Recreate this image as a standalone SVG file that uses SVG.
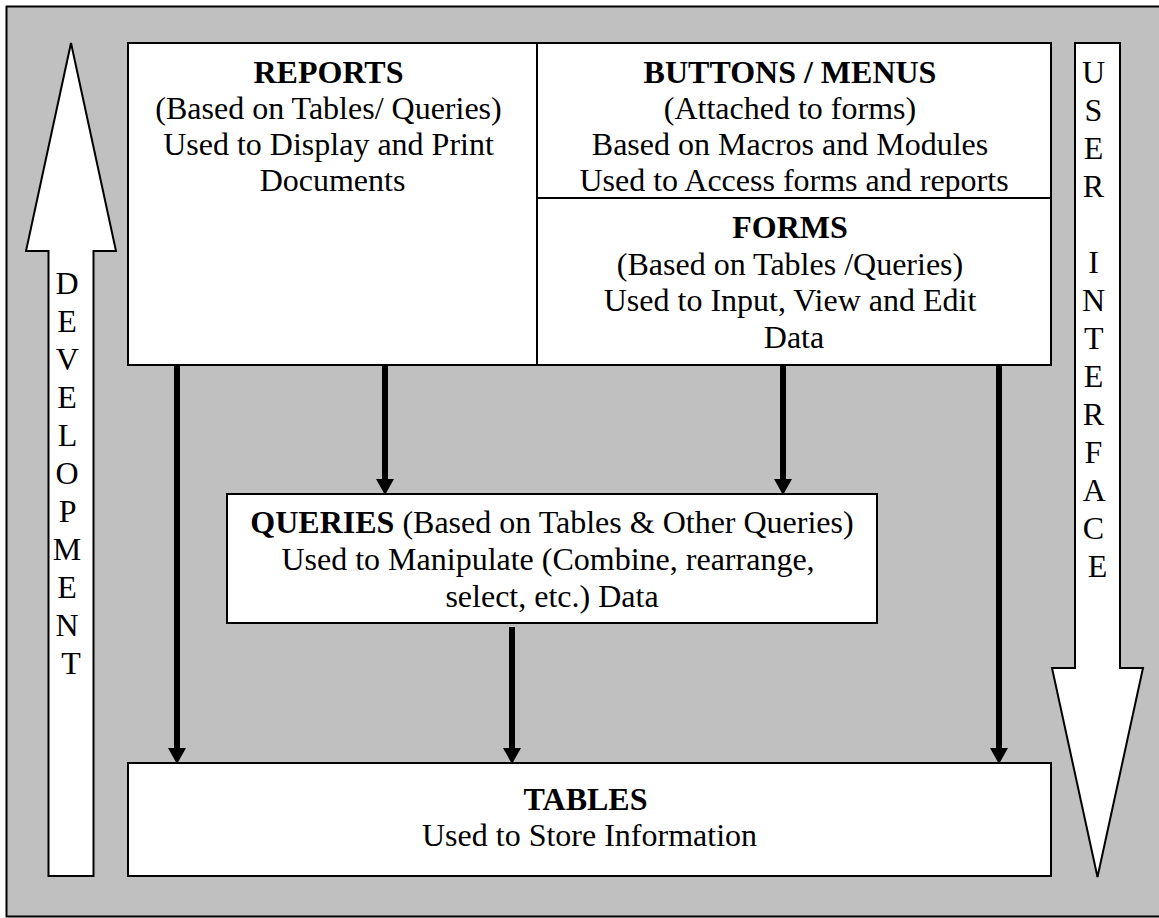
<svg xmlns="http://www.w3.org/2000/svg" width="1159" height="918" viewBox="0 0 1159 918">
  <style>
    .box { fill: #ffffff; stroke: #000000; stroke-width: 2; }
    .big { fill: #ffffff; stroke: #000000; stroke-width: 2; stroke-linejoin: miter; }
    text { font-family: 'Liberation Serif', 'Times New Roman', Tinos, 'DejaVu Serif', serif; font-size: 32px; fill: #000000; text-anchor: middle; }
    .b { font-weight: bold; }
    .link { stroke: #000000; stroke-width: 6; fill: none; }
  </style>

  <!-- background frame -->
  <rect x="6.5" y="6.5" width="1160" height="910" fill="#c0c0c0" stroke="#000000" stroke-width="2"/>

  <!-- development arrow (up) -->
  <g id="development">
    <path class="big" d="M71,43 L116,251 L93.5,251 L93.5,876 L48.5,876 L48.5,251 L26,251 Z"/>
    <text font-family="Liberation Serif, serif">
      <tspan x="71" y="294">D</tspan>
      <tspan x="71" y="332">E</tspan>
      <tspan x="71" y="370">V</tspan>
      <tspan x="71" y="408">E</tspan>
      <tspan x="71" y="446">L</tspan>
      <tspan x="71" y="484">O</tspan>
      <tspan x="71" y="522">P</tspan>
      <tspan x="71" y="560">M</tspan>
      <tspan x="71" y="598">E</tspan>
      <tspan x="71" y="636">N</tspan>
      <tspan x="71" y="674">T</tspan>
    </text>
  </g>

  <!-- user interface arrow (down) -->
  <g id="user-interface">
    <path class="big" d="M1075,43 L1120,43 L1120,668 L1143,668 L1097.5,877 L1052,668 L1075,668 Z"/>
    <text font-family="Liberation Serif, serif">
      <tspan x="1097.5" y="83">U</tspan>
      <tspan x="1097.5" y="121">S</tspan>
      <tspan x="1097.5" y="159">E</tspan>
      <tspan x="1097.5" y="197">R</tspan>
      <tspan x="1097.5" y="273">I</tspan>
      <tspan x="1097.5" y="311">N</tspan>
      <tspan x="1097.5" y="349">T</tspan>
      <tspan x="1097.5" y="387">E</tspan>
      <tspan x="1097.5" y="425">R</tspan>
      <tspan x="1097.5" y="463">F</tspan>
      <tspan x="1097.5" y="501">A</tspan>
      <tspan x="1097.5" y="539">C</tspan>
      <tspan x="1097.5" y="577">E</tspan>
    </text>
  </g>

  <!-- reports -->
  <g id="reports">
    <rect class="box" x="128" y="43" width="409" height="322"/>
    <text font-family="Liberation Serif, serif">
      <tspan class="b" x="332.5" y="83">REPORTS</tspan>
      <tspan x="332.5" y="119">(Based on Tables/ Queries)</tspan>
      <tspan x="332.5" y="155">Used to Display and Print</tspan>
      <tspan x="332.5" y="191">Documents</tspan>
    </text>
  </g>

  <!-- buttons / menus -->
  <g id="buttons-menus">
    <rect class="box" x="537" y="43" width="514" height="155"/>
    <text font-family="Liberation Serif, serif">
      <tspan class="b" x="794" y="83">BUTTONS / MENUS</tspan>
      <tspan x="794" y="119">(Attached to forms)</tspan>
      <tspan x="794" y="155">Based on Macros and Modules</tspan>
      <tspan x="794" y="191">Used to Access forms and reports</tspan>
    </text>
  </g>

  <!-- forms -->
  <g id="forms">
    <rect class="box" x="537" y="198" width="514" height="167"/>
    <text font-family="Liberation Serif, serif">
      <tspan class="b" x="794" y="238">FORMS</tspan>
      <tspan x="794" y="274.5">(Based on Tables /Queries)</tspan>
      <tspan x="794" y="311">Used to Input, View and Edit</tspan>
      <tspan x="794" y="347.5">Data</tspan>
    </text>
  </g>

  <!-- queries -->
  <g id="queries">
    <rect class="box" x="227" y="494" width="650" height="129"/>
    <text font-family="Liberation Serif, serif" x="552" y="533"><tspan class="b">QUERIES</tspan> (Based on Tables &amp; Other Queries)</text>
    <text font-family="Liberation Serif, serif">
      <tspan x="552" y="570">Used to Manipulate (Combine, rearrange,</tspan>
      <tspan x="552" y="607">select, etc.) Data</tspan>
    </text>
  </g>

  <!-- tables -->
  <g id="tables">
    <rect class="box" x="128" y="763" width="923" height="113"/>
    <text font-family="Liberation Serif, serif">
      <tspan class="b" x="589.5" y="810">TABLES</tspan>
      <tspan x="589.5" y="846">Used to Store Information</tspan>
    </text>
  </g>

  <!-- connectors: shafts plus solid heads -->
  <g id="connectors">
    <line class="link" x1="177" y1="366" x2="177" y2="749"/>
    <path d="M168,748 L186,748 L177,764 Z"/>
    <line class="link" x1="385" y1="366" x2="385" y2="480"/>
    <path d="M376,479 L394,479 L385,495 Z"/>
    <line class="link" x1="783" y1="366" x2="783" y2="480"/>
    <path d="M774,479 L792,479 L783,495 Z"/>
    <line class="link" x1="999" y1="366" x2="999" y2="749"/>
    <path d="M990,748 L1008,748 L999,764 Z"/>
    <line class="link" x1="512" y1="627" x2="512" y2="749"/>
    <path d="M503,748 L521,748 L512,764 Z"/>
  </g>
</svg>
